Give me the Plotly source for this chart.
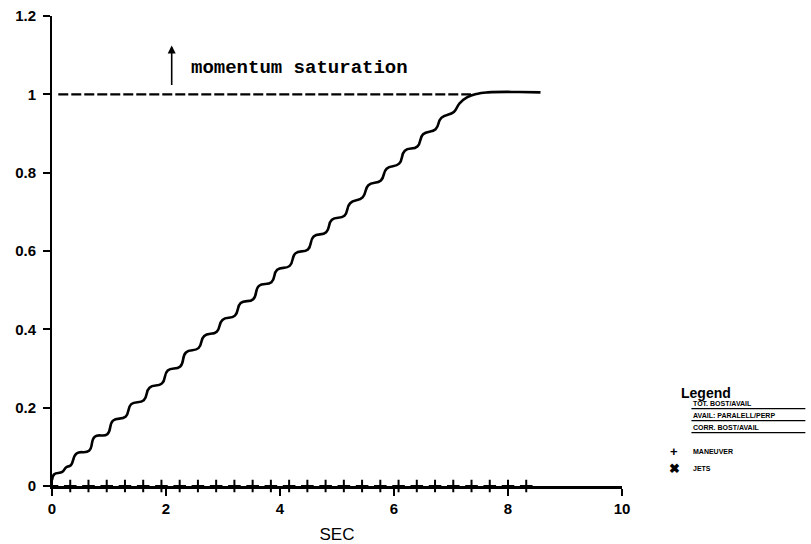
import plotly.graph_objects as go

# Momentum ratio vs. time (knots of the recorded trace)
sec = [0.00, 0.04, 0.18, 0.25,
       0.33, 0.43, 0.65, 0.75, 0.97, 1.07, 1.29, 1.39, 1.61, 1.71,
       1.93, 2.03, 2.25, 2.35, 2.57, 2.67, 2.89, 2.99, 3.21, 3.31,
       3.53, 3.63, 3.85, 3.95, 4.17, 4.27, 4.49, 4.59, 4.81, 4.91,
       5.13, 5.23, 5.45, 5.55, 5.77, 5.87, 6.09, 6.19, 6.41, 6.51,
       6.73, 6.83, 7.05, 7.15, 7.28, 7.45, 7.65, 8.20, 8.57]
ratio = [0.015, 0.030, 0.036, 0.048,
         0.053, 0.083, 0.090, 0.126, 0.132, 0.167, 0.177, 0.209, 0.219, 0.251,
         0.262, 0.295, 0.305, 0.341, 0.352, 0.383, 0.394, 0.424, 0.435, 0.467,
         0.477, 0.511, 0.520, 0.552, 0.562, 0.594, 0.604, 0.637, 0.648, 0.680,
         0.690, 0.722, 0.737, 0.768, 0.780, 0.810, 0.823, 0.856, 0.867, 0.898,
         0.911, 0.940, 0.955, 0.977, 0.992, 1.001, 1.005, 1.006, 1.005]

# Maneuver instants (marked on the time axis)
maneuver_sec = [0.00, 0.32, 0.64, 0.96, 1.28, 1.60, 1.92, 2.24, 2.56, 2.88,
                3.20, 3.52, 3.84, 4.16, 4.48, 4.80, 5.12, 5.44, 5.76, 6.08,
                6.40, 6.72, 7.04, 7.36, 7.68, 8.00, 8.32]

# Saturation reference level
sat_sec = [0.11, 7.35]
sat_level = [1.0, 1.0]

x_ticks = [0, 2, 4, 6, 8, 10]
y_ticks = [0, 0.2, 0.4, 0.6, 0.8, 1, 1.2]
y_tick_text = ["0", "0.2", "0.4", "0.6", "0.8", "1", "1.2"]

legend_lines = ["TOT. BOST/AVAIL", "AVAIL: PARALELL/PERP", "CORR. BOST/AVAIL"]
legend_marks = [("+", "MANEUVER"), ("\u2716", "JETS")]

ML, MR, MT, MB = 52, 188.5, 16, 57.5

fig = go.Figure()

fig.add_trace(go.Scatter(
    x=sat_sec, y=sat_level, mode="lines",
    line=dict(color="black", width=2.4, dash="10px,3px"),
    hoverinfo="skip", showlegend=False))

fig.add_trace(go.Scatter(
    x=sec, y=ratio, mode="lines",
    line=dict(color="black", width=2.6, shape="spline", smoothing=1.3),
    showlegend=False))

fig.add_trace(go.Scatter(
    x=maneuver_sec, y=[0] * len(maneuver_sec), mode="markers",
    marker=dict(symbol="cross-thin", size=9, line=dict(color="black", width=2)),
    cliponaxis=False, showlegend=False))

fig.update_layout(
    width=811, height=544,
    margin=dict(l=ML, r=MR, t=MT, b=MB),
    paper_bgcolor="white", plot_bgcolor="white",
    font=dict(family="Liberation Sans, Arial, sans-serif", color="black"),
    xaxis=dict(
        range=[0, 10], tickvals=x_ticks, ticks="outside", ticklen=7,
        tickwidth=2, tickcolor="black", showline=True, linewidth=2.8,
        linecolor="black", showgrid=False, zeroline=False, automargin=False,
        tickfont=dict(size=15, weight="bold"),
        title=dict(text="SEC", font=dict(size=17), standoff=14)),
    yaxis=dict(
        range=[0, 1.2], tickvals=y_ticks, ticktext=y_tick_text,
        ticks="outside", ticklen=7, tickwidth=2, tickcolor="black",
        showline=True, linewidth=1.8, linecolor="black", showgrid=False,
        zeroline=False, ticklabelstandoff=4, automargin=False,
        tickfont=dict(size=15, weight="bold")),
)

# Saturation arrow and label
fig.add_annotation(
    x=2.1, y=1.125, ax=2.1, ay=1.02, xref="x", yref="y", axref="x", ayref="y",
    showarrow=True, arrowhead=2, arrowsize=1, arrowwidth=1.6, arrowcolor="black",
    text="")
fig.add_annotation(
    x=2.4, y=1.068, xref="x", yref="y", xanchor="left", yanchor="middle",
    showarrow=False, text="momentum saturation",
    font=dict(family="Liberation Mono, Courier New, monospace", size=19,
              color="black", weight="bold"))

# Legend block drawn to the right of the plot
px_w = 811 - ML - MR
px_h = 544 - MT - MB


def to_paper(px, py):
    return (px - ML) / px_w, (544 - MB - py) / px_h


lx, ly = to_paper(680, 393)
fig.add_annotation(x=lx, y=ly, xref="paper", yref="paper", xanchor="left",
                   yanchor="middle", showarrow=False, text="Legend",
                   font=dict(size=14, weight="bold"))

for i, label in enumerate(legend_lines):
    py = 404 + 12 * i
    tx, ty = to_paper(692, py)
    fig.add_annotation(x=tx, y=ty, xref="paper", yref="paper", xanchor="left",
                       yanchor="middle", showarrow=False, text=label,
                       font=dict(size=7, weight="bold"))
    x0, y0 = to_paper(692, py + 5)
    x1, _ = to_paper(806, py + 5)
    fig.add_shape(type="line", xref="paper", yref="paper", x0=x0, x1=x1,
                  y0=y0, y1=y0, line=dict(color="black", width=1.2))

for i, (sym, label) in enumerate(legend_marks):
    py = 452 + 17 * i
    sx, sy = to_paper(675, py)
    fig.add_annotation(x=sx, y=sy, xref="paper", yref="paper", xanchor="center",
                       yanchor="middle", showarrow=False, text=sym,
                       font=dict(size=13, weight="bold"))
    tx, ty = to_paper(692, py)
    fig.add_annotation(x=tx, y=ty, xref="paper", yref="paper", xanchor="left",
                       yanchor="middle", showarrow=False, text=label,
                       font=dict(size=7, weight="bold"))

fig.write_html("out.html")
